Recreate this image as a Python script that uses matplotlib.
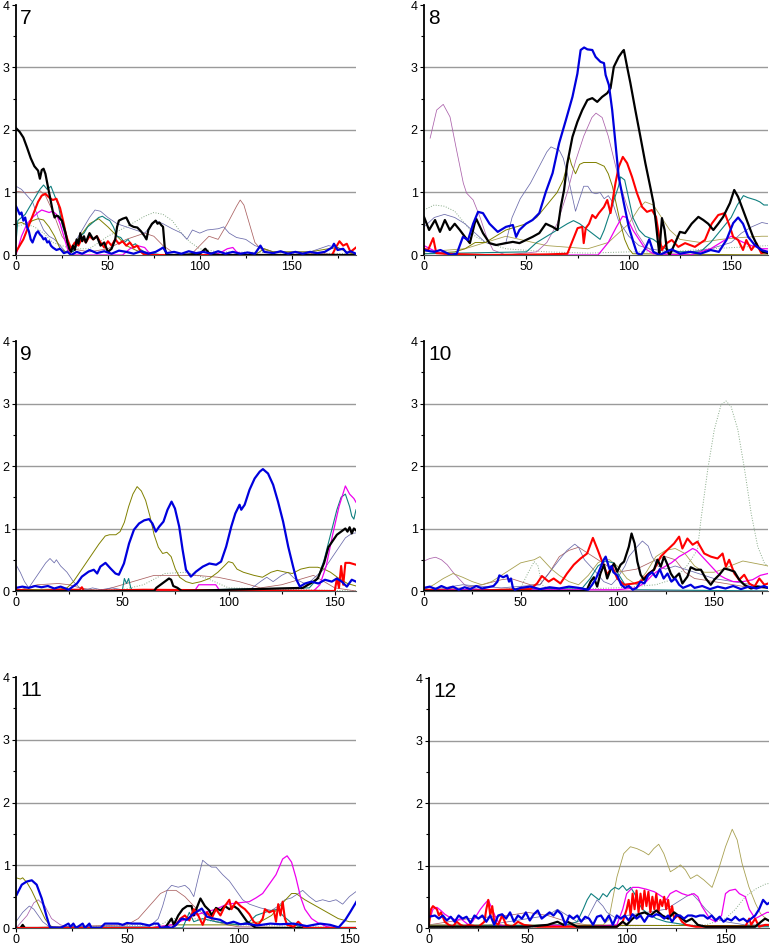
import matplotlib
matplotlib.use('Agg')
import matplotlib.pyplot as plt
from matplotlib.ticker import MultipleLocator

plt.rcParams['font.family'] = ['Liberation Sans', 'DejaVu Sans']

# ---------------- panel 7 ----------------
p7_black_x = [0, 2, 4, 6, 8, 10, 12, 13, 14, 15, 16, 17, 18, 19, 20, 21, 22, 23, 24, 25, 26, 27, 28, 29, 30,
              31, 32, 33, 34, 35, 36, 37, 38, 40, 42, 44, 46, 48, 50, 52, 54, 55, 56, 58, 60, 62, 64, 66, 68,
              70, 71, 72, 74, 76, 77, 78, 79, 80, 81, 82, 90, 100, 103, 105, 110, 185]
p7_black_y = [2.03, 1.97, 1.88, 1.72, 1.55, 1.42, 1.35, 1.22, 1.36, 1.38, 1.3, 1.15, 1.0, 0.85, 0.7, 0.6,
              0.63, 0.62, 0.58, 0.55, 0.45, 0.35, 0.2, 0.1, 0.05, 0.15, 0.08, 0.25, 0.18, 0.35, 0.22, 0.3,
              0.2, 0.35, 0.25, 0.3, 0.15, 0.2, 0.05, 0.1, 0.25, 0.45, 0.55, 0.58, 0.6, 0.48, 0.45, 0.44,
              0.38, 0.3, 0.25, 0.4, 0.5, 0.55, 0.5, 0.52, 0.48, 0.45, 0.1, 0.0, 0.0, 0.02, 0.1, 0.03, 0.0, 0.0]
p7_blue_x = [0, 1, 2, 3, 4, 5, 6, 7, 8, 9, 10, 11, 12, 13, 14, 15, 16, 17, 18, 19, 20, 22, 24, 26, 28, 30,
             33, 36, 40, 44, 48, 52, 56, 60, 64, 68, 72, 76, 79, 80, 82, 86, 90, 94, 98, 102, 106, 110, 114,
             118, 122, 126, 130, 133, 135, 140, 144, 148, 152, 156, 160, 164, 168, 172, 173, 175, 178, 180,
             182, 185]
p7_blue_y = [0.78, 0.72, 0.65, 0.68, 0.55, 0.6, 0.45, 0.38, 0.25, 0.2, 0.28, 0.35, 0.38, 0.33, 0.3, 0.25,
             0.27, 0.2, 0.22, 0.15, 0.12, 0.08, 0.1, 0.03, 0.05, 0.0, 0.05, 0.02, 0.08, 0.03, 0.06, 0.02,
             0.07, 0.05, 0.02, 0.06, 0.02, 0.05, 0.1, 0.12, 0.03, 0.05, 0.02, 0.06, 0.03, 0.05, 0.02, 0.06,
             0.02, 0.05, 0.02, 0.04, 0.02, 0.15, 0.05, 0.03, 0.06, 0.02, 0.05, 0.02, 0.05, 0.03, 0.05, 0.12,
             0.18, 0.08, 0.1, 0.03, 0.06, 0.02]
p7_red_x = [0, 2, 4, 6, 8, 10, 12, 14, 16, 18, 20, 22, 24, 26, 27, 28, 30, 32, 34, 36, 38, 40, 42, 44, 46,
            48, 50, 52, 54, 56, 58, 60, 62, 64, 66, 68, 70, 172, 174, 176, 178, 180, 182, 185]
p7_red_y = [0.05, 0.15, 0.25, 0.4, 0.55, 0.7, 0.85, 0.95, 0.98, 0.92, 0.88, 0.9, 0.75, 0.5, 0.35, 0.25,
            0.1, 0.2, 0.15, 0.28, 0.2, 0.3, 0.25, 0.3, 0.2, 0.12, 0.22, 0.15, 0.25, 0.18, 0.22, 0.15, 0.2,
            0.12, 0.15, 0.05, 0.0, 0.0, 0.12, 0.22, 0.15, 0.18, 0.05, 0.12]
p7_teal_x = [0, 1, 3, 5, 7, 9, 11, 13, 15, 17, 19, 21, 23, 25, 27, 29, 31, 33, 35, 37, 39, 41, 43, 45, 47,
             49, 51, 53, 55, 57, 59, 61, 63, 65, 67, 70, 75, 80, 185]
p7_teal_y = [0.2, 0.55, 0.6, 0.65, 0.75, 0.85, 0.95, 1.05, 1.12, 1.05, 1.1, 0.95, 0.8, 0.5, 0.3, 0.1, 0.05,
             0.15, 0.3, 0.35, 0.45, 0.5, 0.55, 0.6, 0.62, 0.58, 0.55, 0.45, 0.3, 0.28, 0.2, 0.25, 0.15,
             0.18, 0.1, 0.05, 0.02, 0.0, 0.0]
p7_magenta_x = [0, 3, 6, 9, 12, 14, 16, 18, 20, 22, 24, 26, 28, 30, 58, 62, 66, 70, 72, 75, 108, 112, 115,
                118, 120, 125, 185]
p7_magenta_y = [0.0, 0.3, 0.5, 0.6, 0.68, 0.72, 0.7, 0.68, 0.7, 0.65, 0.5, 0.3, 0.1, 0.0, 0.0, 0.1, 0.15,
                0.12, 0.05, 0.0, 0.0, 0.05, 0.1, 0.12, 0.05, 0.0, 0.0]
p7_olive_x = [0, 3, 6, 9, 12, 15, 18, 21, 24, 27, 30, 35, 40, 45, 50, 55, 60, 65, 70, 80, 130, 135, 140,
              150, 160, 170, 175, 180, 185]
p7_olive_y = [0.5, 0.52, 0.48, 0.55, 0.58, 0.56, 0.45, 0.3, 0.1, 0.05, 0.1, 0.3, 0.5, 0.58, 0.45, 0.3, 0.15,
              0.08, 0.02, 0.0, 0.0, 0.1, 0.05, 0.05, 0.05, 0.1, 0.12, 0.05, 0.0]
p7_slate_x = [0, 3, 6, 9, 12, 15, 18, 21, 24, 27, 30, 35, 40, 43, 46, 50, 55, 60, 65, 70, 73, 76, 80, 85,
              90, 93, 96, 100, 104, 110, 113, 116, 120, 125, 130, 135, 140, 150, 160, 165, 170, 175, 180, 185]
p7_slate_y = [1.1, 1.05, 0.95, 0.85, 0.6, 0.4, 0.3, 0.25, 0.15, 0.05, 0.1, 0.35, 0.6, 0.72, 0.7, 0.6, 0.5,
              0.45, 0.4, 0.35, 0.45, 0.55, 0.5, 0.42, 0.35, 0.25, 0.4, 0.35, 0.4, 0.42, 0.45, 0.35, 0.28,
              0.25, 0.15, 0.1, 0.05, 0.05, 0.05, 0.1, 0.15, 0.12, 0.05, 0.02]
p7_brown_x = [0, 5, 10, 13, 16, 20, 25, 30, 40, 50, 60, 70, 75, 80, 85, 95, 100, 105, 110, 115, 120, 122,
              124, 127, 130, 133, 140, 185]
p7_brown_y = [1.02, 1.0, 1.0, 1.03, 0.95, 0.7, 0.3, 0.1, 0.05, 0.1, 0.25, 0.35, 0.3, 0.15, 0.05, 0.0, 0.15,
              0.3, 0.25, 0.5, 0.78, 0.88, 0.8, 0.5, 0.2, 0.1, 0.05, 0.0]
p7_dotted_x = [0, 5, 10, 15, 20, 30, 40, 50, 60, 70, 75, 80, 85, 90, 95, 100, 110, 185]
p7_dotted_y = [0.45, 0.5, 0.45, 0.35, 0.2, 0.1, 0.1, 0.3, 0.45, 0.62, 0.68, 0.65, 0.55, 0.35, 0.2, 0.1,
               0.05, 0.02]

# ---------------- panel 8 ----------------
p8_blue_x = [0, 3, 5, 8, 10, 13, 16, 19, 21.5, 24, 26.4, 28.8, 32, 36, 40, 43.4, 45, 46.6, 49.8, 53, 56.3,
             59.5, 62.8, 66, 69.3, 72.5, 74.9, 76.5, 78.2, 79.8, 82.2, 83.8, 86.2, 87.9, 88.7, 90.3, 91.9,
             93.5, 95.1, 97.6, 100, 102.4, 104, 106, 108, 110, 112, 115, 121, 125, 130, 135, 140, 144,
             147.7, 151, 153.4, 155.8, 158.3, 161.5, 164.7, 168]
p8_blue_y = [0.08, 0.06, 0.05, 0.08, 0.05, 0.0, 0.02, 0.29, 0.24, 0.5, 0.69, 0.67, 0.5, 0.37, 0.45, 0.48,
             0.29, 0.4, 0.5, 0.56, 0.67, 1.01, 1.31, 1.79, 2.16, 2.53, 2.9, 3.28, 3.32, 3.29, 3.28, 3.17,
             3.09, 3.07, 2.88, 2.72, 2.32, 1.79, 1.25, 0.83, 0.45, 0.19, 0.03, 0.0, 0.1, 0.25, 0.05, 0.0,
             0.09, 0.02, 0.05, 0.02, 0.08, 0.05, 0.24, 0.51, 0.6, 0.5, 0.29, 0.16, 0.08, 0.05]
p8_black_x = [0, 2.5, 5.4, 7.8, 10.2, 12.6, 15, 17.5, 20, 22.4, 24.7, 25.5, 28.8, 32, 35.3, 40, 43.4,
              46.6, 49.8, 53, 56.3, 59.5, 62.8, 65.2, 66.8, 68.4, 70, 72.5, 74.9, 77.3, 79.8, 82.2, 84.6,
              87, 89.5, 91.1, 92.7, 95.1, 96.8, 97.6, 99.2, 100.8, 103.2, 105.7, 108.1, 110.5, 112.1,
              113.3, 114.3, 114.9, 116.2, 117.5, 118.6, 120, 122.6, 125, 127.5, 130.7, 134, 136.4, 138.8,
              141.3, 143.7, 146.1, 149.4, 151.5, 153.4, 155.8, 158.3, 160.7, 163.1, 165.5, 168]
p8_black_y = [0.61, 0.4, 0.56, 0.37, 0.56, 0.4, 0.5, 0.4, 0.29, 0.19, 0.5, 0.58, 0.35, 0.19, 0.16, 0.19,
              0.21, 0.19, 0.24, 0.29, 0.35, 0.5, 0.45, 0.4, 0.77, 1.04, 1.47, 1.89, 2.13, 2.32, 2.48, 2.51,
              2.45, 2.53, 2.59, 2.67, 3.01, 3.17, 3.25, 3.28, 3.01, 2.75, 2.32, 1.89, 1.47, 1.09, 0.83, 0.5,
              0.19, 0.03, 0.59, 0.4, 0.08, 0.0, 0.19, 0.37, 0.35, 0.5, 0.61, 0.56, 0.5, 0.4, 0.5, 0.61, 0.83,
              1.04, 0.93, 0.72, 0.5, 0.29, 0.13, 0.05, 0.03]
p8_red_x = [0, 2, 4.5, 6, 10, 30, 60, 70, 73.3, 75, 77.3, 78, 79, 80.6, 82.2, 83.8, 85.4, 87.9, 89.5, 91.1,
            93.5, 95.1, 97.1, 99.2, 101.6, 104, 106.5, 108.9, 111.3, 113.3, 114.9, 116.2, 118.6, 121,
            124.2, 127.5, 132.3, 137.2, 140.5, 143.7, 146.9, 149.4, 151, 153.4, 155.8, 157.4, 159.9, 162.3,
            164.7, 168]
p8_red_y = [0.1, 0.08, 0.27, 0.03, 0.02, 0.0, 0.01, 0.02, 0.29, 0.43, 0.45, 0.19, 0.43, 0.5, 0.64, 0.59,
            0.67, 0.77, 0.88, 0.67, 1.15, 1.41, 1.57, 1.47, 1.25, 0.99, 0.77, 0.69, 0.72, 0.61, 0.29, 0.08,
            0.19, 0.24, 0.13, 0.19, 0.13, 0.24, 0.5, 0.64, 0.67, 0.45, 0.29, 0.24, 0.08, 0.24, 0.08, 0.19,
            0.03, 0.05]
p8_slate_x = [0, 5, 10, 15, 20, 25, 30, 35, 40, 43, 47, 52, 56, 60, 62, 64, 66, 68, 70, 72, 74, 76, 78,
              80, 82, 84, 86, 88, 90, 92, 95, 100, 105, 110, 120, 130, 140, 145, 150, 155, 160, 165, 168]
p8_slate_y = [0.45, 0.6, 0.65, 0.6, 0.5, 0.35, 0.2, 0.15, 0.2, 0.6, 0.9, 1.15, 1.4, 1.65, 1.73, 1.7, 1.68,
              1.55, 1.3, 1.0, 0.7, 0.9, 1.1, 1.1, 1.0, 0.98, 1.0, 0.9, 0.95, 0.85, 0.55, 0.3, 0.15, 0.1,
              0.05, 0.05, 0.1, 0.15, 0.2, 0.35, 0.45, 0.52, 0.5]
p8_plum_x = [3, 6.2, 9.4, 12.7, 15.9, 19.2, 20.8, 24, 27.3, 30.6, 33.7, 40, 55, 60, 65, 70, 74, 78, 82, 84,
             87, 90, 93, 96, 100, 104, 108, 112, 120, 168]
p8_plum_y = [1.87, 2.32, 2.41, 2.21, 1.68, 1.15, 0.99, 0.88, 0.61, 0.29, 0.08, 0.0, 0.05, 0.2, 0.5, 1.0,
             1.5, 1.9, 2.2, 2.27, 2.2, 1.9, 1.5, 1.1, 0.7, 0.35, 0.15, 0.05, 0.0, 0.0]
p8_olive_x = [0, 15, 20, 25, 30, 35, 40, 45, 50, 55, 60, 65, 68, 70, 71, 72, 74, 76, 78, 84, 88, 90, 92,
              94, 96, 98, 100, 102, 168]
p8_olive_y = [0.02, 0.05, 0.1, 0.2, 0.2, 0.3, 0.4, 0.45, 0.5, 0.6, 0.8, 1.0, 1.2, 1.45, 1.57, 1.45, 1.3,
              1.45, 1.48, 1.48, 1.42, 1.3, 1.1, 0.8, 0.5, 0.25, 0.1, 0.02, 0.0]
p8_tan_x = [0, 20, 40, 60, 80, 90, 95, 100, 105, 108, 112, 116, 120, 125, 135, 145, 155, 165, 168]
p8_tan_y = [0.05, 0.1, 0.3, 0.15, 0.1, 0.2, 0.35, 0.5, 0.75, 0.85, 0.8, 0.6, 0.4, 0.25, 0.2, 0.25, 0.28,
            0.3, 0.3]
p8_teal_x = [0, 50, 55, 60, 65, 70, 73, 76, 80, 84, 86, 88, 90, 93, 95, 96, 98, 100, 102, 105, 108, 112,
             118, 125, 135, 140, 145, 150, 153, 156, 158, 160, 162, 164, 166, 168]
p8_teal_y = [0.02, 0.05, 0.2, 0.3, 0.4, 0.5, 0.55, 0.5, 0.4, 0.3, 0.25, 0.4, 0.6, 0.9, 1.1, 1.25, 1.2, 0.9,
             0.6, 0.4, 0.3, 0.25, 0.1, 0.05, 0.05, 0.2, 0.4, 0.6, 0.8, 0.95, 0.92, 0.9, 0.88, 0.85, 0.8, 0.8]
p8_magenta_x = [0, 3, 6, 10, 20, 85, 90, 94, 97, 99, 102, 105, 108, 112, 130, 140, 145, 150, 153, 156, 160,
                165, 168]
p8_magenta_y = [0.15, 0.1, 0.05, 0.02, 0.0, 0.0, 0.2, 0.45, 0.62, 0.6, 0.4, 0.25, 0.1, 0.02, 0.0, 0.1, 0.2,
                0.3, 0.25, 0.2, 0.15, 0.1, 0.1]
p8_dotted_x = [0, 5, 10, 15, 20, 25, 30, 40, 60, 80, 100, 120, 140, 168]
p8_dotted_y = [0.72, 0.8, 0.78, 0.7, 0.5, 0.3, 0.2, 0.1, 0.05, 0.03, 0.05, 0.05, 0.1, 0.15]

# ---------------- panel 9 ----------------
p9_blue_x = [0, 3, 6, 9, 12, 15, 18, 21, 24.8, 28.7, 31, 34.2, 36.6, 38.2, 39.7, 42.1, 44.5, 46.8, 48.4,
             50.8, 53.2, 55.5, 57.9, 60.3, 62.6, 64.2, 65.8, 67.4, 69.4, 71.3, 73.2, 74.8, 76.8, 78.4, 80,
             82.3, 84.7, 87.9, 91, 94.2, 96.5, 98.9, 101.3, 103.2, 105.2, 106, 107.6, 109.9, 112.3, 114.7,
             116.2, 118.6, 121, 123.3, 125.7, 128.1, 130.4, 132, 133.6, 136, 139.1, 142.3, 145.4, 148.6,
             151, 153.3, 155.7, 158, 160]
p9_blue_y = [0.05, 0.07, 0.05, 0.08, 0.06, 0.08, 0.04, 0.07, 0.02, 0.12, 0.23, 0.31, 0.34, 0.28, 0.39,
             0.45, 0.36, 0.28, 0.26, 0.44, 0.76, 0.98, 1.08, 1.13, 1.15, 1.08, 0.95, 1.03, 1.11, 1.3, 1.43,
             1.32, 1.03, 0.66, 0.34, 0.23, 0.31, 0.39, 0.44, 0.42, 0.47, 0.71, 1.03, 1.24, 1.38, 1.3, 1.38,
             1.62, 1.8, 1.91, 1.95, 1.88, 1.7, 1.43, 1.11, 0.71, 0.39, 0.18, 0.07, 0.12, 0.15, 0.12, 0.18,
             0.15, 0.2, 0.15, 0.07, 0.18, 0.15]
p9_olive_x = [0, 20, 24, 27, 30, 33, 36, 39, 42, 44, 47, 49, 51, 53, 55, 57, 59, 61, 63, 65, 67, 69, 71,
              73, 75, 77, 80, 83, 87, 91, 95, 98, 100, 102, 104, 107, 112, 116, 120, 123, 127, 130, 134,
              138, 142, 145, 148, 152, 156, 160]
p9_olive_y = [0.02, 0.03, 0.05, 0.15, 0.3, 0.45, 0.6, 0.75, 0.88, 0.9, 0.9, 0.95, 1.1, 1.35, 1.55, 1.67,
              1.6, 1.45, 1.2, 0.9, 0.7, 0.6, 0.62, 0.55, 0.35, 0.22, 0.15, 0.12, 0.15, 0.2, 0.3, 0.4, 0.47,
              0.45, 0.35, 0.3, 0.25, 0.22, 0.3, 0.33, 0.3, 0.28, 0.35, 0.38, 0.38, 0.35, 0.3, 0.2, 0.12, 0.08]
p9_slate_x = [0, 2, 4, 6, 8, 11, 14, 16, 18, 19, 21, 24, 27, 30, 33, 36, 40, 45, 50, 110, 115, 118, 121,
              125, 128, 131, 134, 137, 140, 145, 150, 155, 158, 160]
p9_slate_y = [0.42, 0.3, 0.15, 0.05, 0.15, 0.3, 0.45, 0.52, 0.45, 0.5, 0.4, 0.3, 0.15, 0.05, 0.02, 0.05,
              0.02, 0.05, 0.02, 0.02, 0.15, 0.22, 0.15, 0.25, 0.3, 0.2, 0.15, 0.1, 0.2, 0.35, 0.6, 0.85, 0.92,
              0.93]
p9_teal_x = [0, 50, 51, 52, 53, 54, 55, 138, 142, 145, 148, 151, 153, 155, 156, 157, 158, 159, 160]
p9_teal_y = [0.0, 0.0, 0.2, 0.12, 0.2, 0.05, 0.0, 0.05, 0.2, 0.5, 0.9, 1.3, 1.5, 1.55, 1.45, 1.35, 1.2,
             1.15, 1.3]
p9_magenta_x = [0, 84, 86, 90, 94, 96, 140, 143, 146, 149, 152, 155, 157, 159, 160]
p9_magenta_y = [0.0, 0.0, 0.1, 0.1, 0.1, 0.0, 0.0, 0.1, 0.4, 0.9, 1.35, 1.68, 1.55, 1.48, 1.42]
p9_black_x = [0, 65, 66, 68, 70, 72, 73, 74, 76, 78, 135, 140, 142, 145, 147, 149, 151, 153, 155, 156,
              157, 158, 159, 160]
p9_black_y = [0.0, 0.0, 0.05, 0.1, 0.15, 0.2, 0.18, 0.08, 0.05, 0.0, 0.05, 0.15, 0.2, 0.45, 0.7, 0.8, 0.9,
              0.95, 1.0, 0.95, 1.02, 0.92, 1.0, 0.97]
p9_red_x = [0, 10, 20, 30, 31, 32, 60, 150, 151, 152, 153, 154, 155, 157, 160]
p9_red_y = [0.02, 0.0, 0.02, 0.02, 0.06, 0.0, 0.02, 0.0, 0.2, 0.05, 0.4, 0.1, 0.45, 0.45, 0.42]
p9_brown_x = [0, 10, 20, 25, 30, 40, 50, 60, 65, 75, 85, 95, 105, 115, 125, 135, 140, 145, 150, 160]
p9_brown_y = [0.0, 0.1, 0.12, 0.1, 0.05, 0.0, 0.1, 0.2, 0.25, 0.25, 0.25, 0.22, 0.15, 0.05, 0.1, 0.2, 0.25,
              0.15, 0.05, 0.0]
p9_dotted_x = [0, 50, 60, 70, 80, 90, 100, 160]
p9_dotted_y = [0.0, 0.02, 0.1, 0.28, 0.3, 0.2, 0.05, 0.0]

# ---------------- panel 10 ----------------
p10_dotted_x = [0, 40, 50, 54, 57, 59, 61, 65, 100, 120, 130, 136, 141.5, 143.3, 146.8, 150.2, 153.7,
                156.3, 158.9, 162.4, 165.9, 169.3, 172.7, 176.2, 178]
p10_dotted_y = [0.02, 0.02, 0.05, 0.3, 0.47, 0.4, 0.1, 0.02, 0.05, 0.1, 0.2, 0.4, 0.66, 1.14, 1.94, 2.58,
                2.98, 3.04, 2.95, 2.58, 1.94, 1.24, 0.71, 0.44, 0.4]
p10_red_x = [0, 20, 40, 55, 58.5, 61, 64.5, 67.1, 70.6, 74, 77.5, 81, 84.4, 87.4, 89.6, 92.2, 94.8, 97.4,
             100, 103.5, 108.7, 112.1, 115.6, 119, 122.5, 126, 129.4, 132, 133.7, 136.3, 139, 141.5, 145,
             148.4, 151.9, 154.5, 156.2, 157.9, 160.6, 163.1, 165.7, 168.3, 171, 173.5, 176.1, 178]
p10_red_y = [0.02, 0.0, 0.02, 0.03, 0.12, 0.24, 0.15, 0.2, 0.12, 0.28, 0.42, 0.52, 0.6, 0.85, 0.68, 0.47,
             0.26, 0.39, 0.2, 0.1, 0.12, 0.15, 0.26, 0.34, 0.55, 0.66, 0.76, 0.87, 0.68, 0.84, 0.74, 0.79,
             0.6, 0.55, 0.52, 0.6, 0.39, 0.5, 0.28, 0.18, 0.26, 0.12, 0.07, 0.2, 0.1, 0.12]
p10_black_x = [0, 84, 86.2, 87.9, 89.6, 91.3, 93.1, 94.8, 96.5, 98.3, 100, 101.7, 103.5, 106, 107.4, 109,
               110.4, 112.1, 113.8, 116.4, 119, 120.8, 122.5, 124.2, 126, 127.7, 129.4, 132, 133.7, 136.3,
               138, 140.7, 143.3, 145.8, 148.4, 150.2, 152.8, 155.4, 157.9, 160.6, 163.1, 165.7, 169.2,
               172.7, 176.1, 178]
p10_black_y = [0.0, 0.0, 0.15, 0.22, 0.07, 0.28, 0.42, 0.2, 0.34, 0.44, 0.31, 0.42, 0.47, 0.71, 0.92,
               0.76, 0.47, 0.26, 0.18, 0.28, 0.34, 0.5, 0.39, 0.55, 0.42, 0.28, 0.2, 0.28, 0.12, 0.23, 0.38,
               0.34, 0.34, 0.2, 0.1, 0.18, 0.26, 0.36, 0.34, 0.31, 0.18, 0.1, 0.04, 0.07, 0.06, 0.05]
p10_blue_x = [0, 3, 6, 9, 12, 15, 18, 21, 24, 27, 30, 33, 36, 38, 39, 41, 43, 44, 45, 46, 47, 50, 55, 60,
              65, 70, 75, 80, 85, 87, 89, 91, 93, 94, 95, 96, 97, 98, 100, 102, 104, 106, 108, 110, 112,
              114, 116, 118, 120, 122, 124, 126, 128, 130, 132, 134, 138, 140, 144, 148, 152, 156, 160,
              164, 168, 172, 176, 178]
p10_blue_y = [0.05, 0.07, 0.03, 0.08, 0.04, 0.07, 0.02, 0.06, 0.03, 0.08, 0.04, 0.06, 0.08, 0.15, 0.25,
              0.22, 0.25, 0.15, 0.2, 0.05, 0.02, 0.05, 0.07, 0.03, 0.06, 0.04, 0.07, 0.05, 0.02, 0.1, 0.2,
              0.35, 0.5, 0.55, 0.45, 0.35, 0.4, 0.3, 0.25, 0.1, 0.05, 0.08, 0.02, 0.05, 0.15, 0.12, 0.25,
              0.3, 0.22, 0.35, 0.2, 0.28, 0.15, 0.2, 0.1, 0.05, 0.1, 0.05, 0.08, 0.03, 0.07, 0.04, 0.08,
              0.03, 0.07, 0.04, 0.08, 0.05]
p10_magenta_x = [0, 100, 110, 115, 118, 120, 124, 128, 132, 136, 139, 141, 144, 147, 150, 153, 156, 160,
                 165, 170, 174, 178]
p10_magenta_y = [0.02, 0.02, 0.05, 0.15, 0.25, 0.3, 0.38, 0.45, 0.55, 0.62, 0.68, 0.65, 0.55, 0.45, 0.35,
                 0.25, 0.2, 0.15, 0.15, 0.18, 0.25, 0.28]
p10_slate_x = [0, 10, 20, 40, 60, 65, 70, 74, 78, 80, 83, 86, 89, 93, 97, 100, 104, 106, 110, 113, 116,
               118, 121, 125, 130, 135, 140, 145, 150, 160, 170, 178]
p10_slate_y = [0.05, 0.05, 0.1, 0.05, 0.1, 0.3, 0.5, 0.65, 0.75, 0.7, 0.5, 0.4, 0.3, 0.15, 0.1, 0.2, 0.4,
               0.55, 0.7, 0.8, 0.72, 0.55, 0.4, 0.35, 0.4, 0.35, 0.3, 0.25, 0.2, 0.15, 0.1, 0.05]
p10_brown_x = [0, 20, 30, 40, 45, 50, 55, 60, 65, 70, 75, 80, 85, 90, 95, 100, 110, 120, 125, 130, 135,
               140, 150, 160, 170, 178]
p10_brown_y = [0.02, 0.05, 0.1, 0.18, 0.2, 0.15, 0.1, 0.1, 0.3, 0.55, 0.65, 0.7, 0.6, 0.5, 0.4, 0.3, 0.35,
               0.5, 0.55, 0.5, 0.3, 0.2, 0.15, 0.1, 0.05, 0.05]
p10_plum_x = [0, 3, 6, 9, 12, 15, 18, 21, 25, 30, 178]
p10_plum_y = [0.48, 0.52, 0.54, 0.5, 0.42, 0.3, 0.2, 0.1, 0.05, 0.02, 0.0]
p10_olive_x = [0, 5, 10, 15, 20, 25, 30, 35, 40, 45, 50, 54, 57, 60, 63, 66, 70, 75, 80, 85, 90, 93, 96,
               100, 105, 110, 115, 120, 125, 130, 135, 140, 145, 150, 155, 160, 165, 170, 175, 178]
p10_olive_y = [0.02, 0.1, 0.2, 0.28, 0.22, 0.15, 0.1, 0.15, 0.25, 0.35, 0.45, 0.48, 0.5, 0.55, 0.45, 0.35,
               0.25, 0.15, 0.1, 0.25, 0.45, 0.5, 0.5, 0.4, 0.2, 0.1, 0.3, 0.55, 0.65, 0.68, 0.6, 0.4, 0.3,
               0.3, 0.35, 0.42, 0.48, 0.45, 0.42, 0.4]
p10_teal_x = [0, 82, 86, 90, 94, 98, 100, 104, 108, 178]
p10_teal_y = [0.0, 0.05, 0.2, 0.4, 0.48, 0.45, 0.3, 0.1, 0.02, 0.0]

# ---------------- panel 11 ----------------
p11_blue_x = [0.3, 2.6, 4.8, 7.1, 9.3, 11.6, 13.8, 15.3, 20, 23.6, 24.5, 25.8, 27, 30, 31, 33, 34, 38, 40,
              41, 46, 48, 50, 52, 56, 60, 62, 64, 65, 68, 70, 72, 74.6, 76.9, 79, 81.4, 83.6, 85.9, 88.9,
              91.9, 94.9, 97.9, 100.9, 103.9, 108.4, 114.4, 118.9, 124.9, 130.9, 136.9, 141.4, 145.2,
              148.2, 150.5, 153.2]
p11_blue_y = [0.53, 0.69, 0.74, 0.76, 0.69, 0.47, 0.18, 0.01, 0.0, 0.07, 0.02, 0.07, 0.0, 0.07, 0.0, 0.07,
              0.0, 0.0, 0.07, 0.07, 0.07, 0.05, 0.08, 0.07, 0.07, 0.04, 0.07, 0.07, 0.0, 0.02, 0.0, 0.05,
              0.15, 0.13, 0.2, 0.26, 0.31, 0.18, 0.15, 0.13, 0.07, 0.1, 0.06, 0.07, 0.04, 0.07, 0.06, 0.07,
              0.03, 0.07, 0.05, 0.01, 0.13, 0.26, 0.42]
p11_olive_x = [0, 2, 3, 5, 7, 9, 11, 13, 15, 17, 60, 70, 80, 90, 100, 110, 115, 120, 124, 126, 130, 135,
               140, 145, 150, 153]
p11_olive_y = [0.8, 0.78, 0.8, 0.72, 0.6, 0.45, 0.3, 0.15, 0.05, 0.0, 0.0, 0.05, 0.05, 0.05, 0.05, 0.1,
               0.2, 0.4, 0.55, 0.55, 0.45, 0.35, 0.25, 0.15, 0.1, 0.1]
p11_slate_x = [0, 3, 6, 8, 10, 12, 15, 60, 64, 66, 68, 70, 73, 76, 78, 80, 82, 84, 86, 88, 90, 93, 96,
               99, 102, 105, 110, 115, 118, 121, 124, 127, 129, 132, 135, 138, 141, 144, 147, 150, 153]
p11_slate_y = [0.1, 0.25, 0.35, 0.3, 0.2, 0.1, 0.02, 0.02, 0.15, 0.35, 0.6, 0.68, 0.65, 0.68, 0.62, 0.5,
               0.8, 1.08, 1.02, 0.97, 0.97, 0.85, 0.75, 0.6, 0.45, 0.38, 0.32, 0.28, 0.35, 0.45, 0.48, 0.55,
               0.6, 0.5, 0.42, 0.45, 0.42, 0.45, 0.38, 0.5, 0.58]
p11_magenta_x = [0, 60, 70, 75, 80, 85, 90, 95, 100, 105, 108, 111, 114, 117, 120, 122, 124, 126, 128, 130,
                 133, 136, 140, 145, 153]
p11_magenta_y = [0.0, 0.0, 0.05, 0.12, 0.2, 0.25, 0.3, 0.38, 0.4, 0.42, 0.48, 0.55, 0.7, 0.85, 1.1, 1.15,
                 1.05, 0.8, 0.5, 0.3, 0.15, 0.08, 0.02, 0.0, 0.0]
p11_brown_x = [0, 50, 55, 60, 65, 68, 72, 76, 80, 85, 90, 95, 100, 153]
p11_brown_y = [0.0, 0.05, 0.15, 0.35, 0.55, 0.6, 0.6, 0.5, 0.35, 0.2, 0.1, 0.05, 0.02, 0.0]
p11_plum_x = [0, 5, 8, 10, 13, 16, 20, 25, 153]
p11_plum_y = [0.0, 0.2, 0.4, 0.45, 0.35, 0.15, 0.05, 0.0, 0.0]
p11_black_x = [0, 2, 3, 4, 67, 68, 70, 71, 73, 75, 77, 79, 80, 82, 83, 85, 87, 88, 90, 92, 94, 96, 98, 100,
               102, 104, 106, 108, 153]
p11_black_y = [0.0, 0.0, 0.05, 0.0, 0.0, 0.05, 0.15, 0.05, 0.2, 0.3, 0.35, 0.35, 0.2, 0.38, 0.47, 0.35,
               0.28, 0.2, 0.32, 0.28, 0.35, 0.3, 0.35, 0.3, 0.2, 0.1, 0.05, 0.0, 0.0]
p11_red_x = [0, 70, 72, 74, 76, 78, 80, 82, 84, 86, 88, 90, 92, 94, 96, 97, 99, 101, 103, 105, 107, 109,
             111, 112, 114, 116, 117, 118, 119, 120, 121, 122, 125, 127, 130, 153]
p11_red_y = [0.0, 0.0, 0.05, 0.15, 0.2, 0.12, 0.3, 0.2, 0.05, 0.25, 0.15, 0.3, 0.2, 0.35, 0.45, 0.3, 0.42,
             0.35, 0.3, 0.22, 0.1, 0.05, 0.15, 0.3, 0.25, 0.28, 0.1, 0.38, 0.2, 0.42, 0.15, 0.05, 0.02,
             0.1, 0.0, 0.0]
p11_teal_x = [0, 75, 78, 80, 84, 90, 100, 105, 108, 112, 115, 118, 120, 125, 130, 153]
p11_teal_y = [0.0, 0.0, 0.25, 0.1, 0.15, 0.1, 0.05, 0.1, 0.2, 0.25, 0.28, 0.3, 0.2, 0.05, 0.0, 0.0]
p11_dotted_x = [0, 65, 70, 80, 90, 100, 153]
p11_dotted_y = [0.0, 0.05, 0.15, 0.15, 0.1, 0.05, 0.0]

# ---------------- panel 12 ----------------
p12_tan_x = [0, 30, 60, 88, 90.9, 95.1, 98.5, 101.9, 105.2, 108.6, 111.1, 113.7, 116.2, 118.8, 122.1,
             124.7, 127.2, 129.7, 132.3, 135.6, 139, 143.2, 146.6, 150, 153.4, 155.9, 158.4, 161.8, 165.2,
             167.7, 171.1, 173]
p12_tan_y = [0.05, 0.05, 0.05, 0.05, 0.13, 0.82, 1.19, 1.3, 1.27, 1.22, 1.17, 1.27, 1.34, 1.19, 0.9, 0.95,
             1.01, 0.93, 0.79, 0.85, 0.77, 0.65, 0.95, 1.3, 1.58, 1.41, 1.03, 0.66, 0.39, 0.23, 0.13, 0.1]
p12_blue_x = [0, 3, 5, 7, 9, 11, 13, 15, 17, 19, 21, 23, 25, 27, 29, 31, 33, 35, 37, 39, 41, 43, 45, 47,
              49, 51, 53, 55, 57, 59, 61, 63, 65, 67, 69, 71, 73, 75, 77, 79, 81, 83, 85, 87, 89, 91, 93,
              95, 97, 99, 101, 103, 105, 107, 109, 111, 113, 115, 117, 119, 121, 123, 125, 127, 129, 131,
              133, 135, 137, 139, 141, 143, 145, 147, 149, 151, 153, 155, 157, 159, 161, 163, 165, 167,
              169, 171, 173]
p12_blue_y = [0.18, 0.2, 0.15, 0.2, 0.12, 0.18, 0.1, 0.2, 0.15, 0.18, 0.08, 0.2, 0.15, 0.2, 0.1, 0.2, 0.05,
              0.2, 0.22, 0.15, 0.25, 0.1, 0.2, 0.15, 0.25, 0.12, 0.22, 0.28, 0.15, 0.2, 0.25, 0.2, 0.28,
              0.22, 0.05, 0.2, 0.15, 0.2, 0.1, 0.18, 0.15, 0.05, 0.18, 0.2, 0.1, 0.2, 0.05, 0.2, 0.15, 0.2,
              0.12, 0.22, 0.15, 0.2, 0.1, 0.2, 0.18, 0.22, 0.2, 0.15, 0.2, 0.1, 0.2, 0.2, 0.15, 0.2, 0.2,
              0.18, 0.2, 0.2, 0.15, 0.2, 0.12, 0.18, 0.1, 0.15, 0.12, 0.18, 0.12, 0.15, 0.1, 0.15, 0.2, 0.3,
              0.45, 0.38, 0.42]
p12_red_x = [0, 1, 2, 4, 5, 6, 8, 10, 12, 14, 16, 18, 20, 25, 28, 29, 30, 31, 32, 33, 35, 37, 39, 42, 45,
             48, 55, 95, 98, 100, 101, 102, 103, 104, 105, 106, 107, 108, 109, 110, 111, 112, 113, 114, 115,
             116, 117, 118, 119, 120, 121, 122, 123, 124, 126, 128, 130, 135, 160, 162, 163, 165, 167, 170,
             173]
p12_red_y = [0.05, 0.3, 0.35, 0.3, 0.2, 0.25, 0.1, 0.05, 0.02, 0.1, 0.05, 0.02, 0.05, 0.02, 0.1, 0.3,
             0.45, 0.2, 0.35, 0.1, 0.05, 0.2, 0.05, 0.02, 0.1, 0.05, 0.02, 0.02, 0.1, 0.3, 0.45, 0.2, 0.55,
             0.3, 0.6, 0.25, 0.55, 0.3, 0.6, 0.35, 0.58, 0.25, 0.5, 0.3, 0.55, 0.25, 0.45, 0.35, 0.5, 0.3,
             0.45, 0.2, 0.35, 0.15, 0.2, 0.1, 0.05, 0.02, 0.02, 0.15, 0.05, 0.15, 0.02, 0.05, 0.05]
p12_magenta_x = [0, 2, 4, 6, 8, 10, 12, 14, 16, 18, 20, 22, 24, 26, 28, 30, 32, 34, 36, 40, 50, 60, 70, 80,
                 95, 98, 100, 103, 106, 110, 114, 118, 120, 122, 125, 128, 131, 134, 136, 138, 140, 142,
                 145, 148, 150, 152, 155, 157, 160, 162, 165, 168, 171, 173]
p12_magenta_y = [0.1, 0.3, 0.33, 0.28, 0.22, 0.18, 0.15, 0.12, 0.15, 0.1, 0.05, 0.1, 0.2, 0.3, 0.38, 0.45,
                 0.3, 0.15, 0.05, 0.02, 0.02, 0.05, 0.03, 0.02, 0.05, 0.3, 0.55, 0.65, 0.65, 0.62, 0.58,
                 0.5, 0.45, 0.55, 0.6, 0.55, 0.52, 0.55, 0.5, 0.35, 0.25, 0.15, 0.1, 0.2, 0.55, 0.6, 0.62,
                 0.55, 0.5, 0.3, 0.15, 0.2, 0.25, 0.25]
p12_teal_x = [0, 70, 75, 78, 80, 82, 84, 86, 88, 90, 92, 94, 96, 98, 100, 102, 104, 106, 108, 110, 115,
              120, 130, 140, 173]
p12_teal_y = [0.02, 0.05, 0.1, 0.3, 0.45, 0.55, 0.5, 0.45, 0.55, 0.5, 0.6, 0.65, 0.62, 0.68, 0.6, 0.65,
              0.55, 0.4, 0.3, 0.25, 0.15, 0.1, 0.05, 0.02, 0.02]
p12_black_x = [0, 20, 50, 60, 65, 68, 70, 75, 95, 98, 100, 103, 106, 109, 112, 115, 118, 121, 124, 127,
               130, 133, 136, 140, 165, 168, 170, 173]
p12_black_y = [0.02, 0.02, 0.02, 0.05, 0.1, 0.05, 0.1, 0.02, 0.02, 0.1, 0.05, 0.15, 0.22, 0.25, 0.2, 0.28,
               0.2, 0.15, 0.25, 0.18, 0.1, 0.15, 0.05, 0.02, 0.02, 0.1, 0.15, 0.1]
p12_slate_x = [0, 30, 60, 65, 70, 75, 80, 85, 88, 90, 95, 100, 110, 120, 125, 130, 133, 136, 140, 145,
               150, 160, 173]
p12_slate_y = [0.05, 0.05, 0.2, 0.3, 0.2, 0.1, 0.15, 0.45, 0.35, 0.25, 0.15, 0.2, 0.25, 0.3, 0.4, 0.5,
               0.55, 0.45, 0.3, 0.15, 0.1, 0.05, 0.05]
p12_dotted_x = [0, 140, 150, 155, 160, 165, 170, 173]
p12_dotted_y = [0.0, 0.05, 0.15, 0.3, 0.5, 0.62, 0.7, 0.72]
p12_brown_x = [0, 20, 40, 50, 60, 70, 80, 173]
p12_brown_y = [0.05, 0.15, 0.2, 0.25, 0.2, 0.1, 0.05, 0.03]
p12_olive_x = [0, 173]
p12_olive_y = [0.05, 0.05]

panel_names = ['7', '8', '9', '10', '11', '12']
panel_xmax = [185, 168, 160, 178, 153, 172]

series = {
    '7': [('dotted', p7_dotted_x, p7_dotted_y), ('brown', p7_brown_x, p7_brown_y),
          ('slate', p7_slate_x, p7_slate_y), ('olive', p7_olive_x, p7_olive_y),
          ('teal', p7_teal_x, p7_teal_y), ('magenta', p7_magenta_x, p7_magenta_y),
          ('red', p7_red_x, p7_red_y), ('black', p7_black_x, p7_black_y), ('blue', p7_blue_x, p7_blue_y)],
    '8': [('dotted', p8_dotted_x, p8_dotted_y), ('tan', p8_tan_x, p8_tan_y),
          ('slate', p8_slate_x, p8_slate_y), ('plum', p8_plum_x, p8_plum_y),
          ('olive', p8_olive_x, p8_olive_y), ('teal', p8_teal_x, p8_teal_y),
          ('magenta', p8_magenta_x, p8_magenta_y), ('red', p8_red_x, p8_red_y),
          ('black', p8_black_x, p8_black_y), ('blue', p8_blue_x, p8_blue_y)],
    '9': [('dotted', p9_dotted_x, p9_dotted_y), ('brown', p9_brown_x, p9_brown_y),
          ('slate', p9_slate_x, p9_slate_y), ('olive', p9_olive_x, p9_olive_y),
          ('teal', p9_teal_x, p9_teal_y), ('magenta', p9_magenta_x, p9_magenta_y),
          ('red', p9_red_x, p9_red_y), ('black', p9_black_x, p9_black_y), ('blue', p9_blue_x, p9_blue_y)],
    '10': [('dotted', p10_dotted_x, p10_dotted_y), ('brown', p10_brown_x, p10_brown_y),
           ('plum', p10_plum_x, p10_plum_y), ('slate', p10_slate_x, p10_slate_y),
           ('tan', p10_olive_x, p10_olive_y), ('teal', p10_teal_x, p10_teal_y),
           ('magenta', p10_magenta_x, p10_magenta_y), ('red', p10_red_x, p10_red_y),
           ('black', p10_black_x, p10_black_y), ('blue', p10_blue_x, p10_blue_y)],
    '11': [('dotted', p11_dotted_x, p11_dotted_y), ('brown', p11_brown_x, p11_brown_y),
           ('plum', p11_plum_x, p11_plum_y), ('slate', p11_slate_x, p11_slate_y),
           ('olive', p11_olive_x, p11_olive_y), ('teal', p11_teal_x, p11_teal_y),
           ('magenta', p11_magenta_x, p11_magenta_y), ('black', p11_black_x, p11_black_y),
           ('red', p11_red_x, p11_red_y), ('blue', p11_blue_x, p11_blue_y)],
    '12': [('dotted', p12_dotted_x, p12_dotted_y), ('brown', p12_brown_x, p12_brown_y),
           ('olive', p12_olive_x, p12_olive_y), ('slate', p12_slate_x, p12_slate_y),
           ('tan', p12_tan_x, p12_tan_y), ('teal', p12_teal_x, p12_teal_y),
           ('magenta', p12_magenta_x, p12_magenta_y), ('red', p12_red_x, p12_red_y),
           ('black', p12_black_x, p12_black_y), ('blue', p12_blue_x, p12_blue_y)],
}

styles = {
    'black': dict(color='black', lw=1.6),
    'blue': dict(color='#0000dd', lw=1.6),
    'red': dict(color='#ff0000', lw=1.5),
    'magenta': dict(color='#ee00ee', lw=0.9),
    'teal': dict(color='#108080', lw=0.8),
    'olive': dict(color='#808000', lw=0.7),
    'tan': dict(color='#a8a050', lw=0.6),
    'slate': dict(color='#6a6aaa', lw=0.55),
    'brown': dict(color='#aa6060', lw=0.55),
    'plum': dict(color='#aa60aa', lw=0.55),
    'dotted': dict(color='#88aa88', lw=0.7, ls=':'),
}

# axes rectangles in figure fractions (left, bottom, width, height)
W, H = 770.0, 947.0
rects = [
    (16 / W, 692 / H, 340 / W, 250 / H),
    (424 / W, 692 / H, 344 / W, 250 / H),
    (16 / W, 356 / H, 340 / W, 250 / H),
    (424 / W, 356 / H, 344 / W, 250 / H),
    (16 / W, 19 / H, 340 / W, 251 / H),
    (429 / W, 19 / H, 340 / W, 250 / H),
]

fig = plt.figure(figsize=(7.7, 9.47), dpi=100)
for name, xmax, rect in zip(panel_names, panel_xmax, rects):
    ax = fig.add_axes(rect)
    for y in [1, 2, 3]:
        ax.axhline(y, color='#9a9a9a', lw=1.0, zorder=0)
    for key, xs, ys in series[name]:
        ax.plot(xs, ys, **styles[key])
    ax.set_xlim(0, xmax)
    ax.set_ylim(0, 4)
    ax.spines['top'].set_visible(False)
    ax.spines['right'].set_visible(False)
    ax.spines['left'].set_linewidth(1.3)
    ax.spines['bottom'].set_color('#555555')
    ax.spines['bottom'].set_linewidth(0.8)
    ax.yaxis.set_major_locator(MultipleLocator(1))
    ax.yaxis.set_minor_locator(MultipleLocator(0.5))
    ax.xaxis.set_major_locator(MultipleLocator(50))
    ax.xaxis.set_minor_locator(MultipleLocator(25))
    ax.tick_params(which='major', direction='out', length=3, width=0.8, labelsize=9, pad=1.5)
    ax.tick_params(which='minor', direction='out', length=2, width=0.8)
    ax.text(0.012, 0.985, name, transform=ax.transAxes, fontsize=15, va='top', ha='left')

fig.savefig('out.png', dpi=100)
